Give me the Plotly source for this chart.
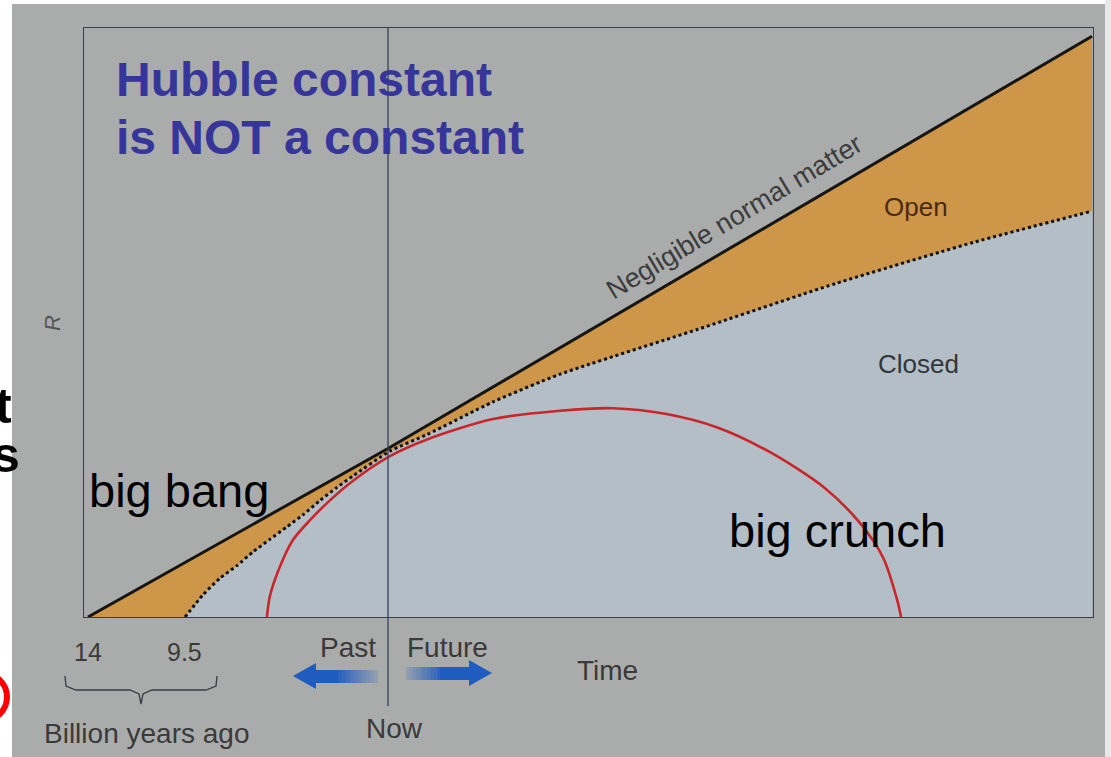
import plotly.graph_objects as go

# time in billion years relative to now (negative = past), R scale factor
empty_t = [-14.0, 0.0, 32.85]
empty_R = [0.0, 1.03, 3.55]

critical_t = [-9.47, -8.63, -7.84, -7.05, -6.30, -5.51, -4.71, -3.97, -3.17, -2.38,
              -1.63, 0.09, 1.82, 4.90, 8.03, 14.47, 20.86, 27.30, 32.85]
critical_R = [0.0, 0.136, 0.237, 0.314, 0.398, 0.475, 0.552, 0.624, 0.713, 0.792,
              0.863, 1.014, 1.115, 1.315, 1.484, 1.759, 2.037, 2.289, 2.481]

closed_t = [-5.65, -5.51, -5.04, -4.43, -3.64, -2.71, -1.63, 0.09, 1.82, 4.90, 8.03,
            10.50, 12.93, 15.40, 17.87, 20.35, 21.98, 23.10, 23.75, 23.94]
closed_R = [0.0, 0.128, 0.309, 0.472, 0.592, 0.713, 0.833, 0.983, 1.085, 1.210, 1.261,
            1.276, 1.242, 1.157, 1.004, 0.792, 0.581, 0.364, 0.109, 0.0]

age_labels = ["14", "9.5"]
age_t = [-14.0, -9.5]

GRAY = "#aaacac"
BLUE_FILL = "#b4bec6"
ORANGE = "#cd9648"
FONT = "Liberation Sans, Arial, sans-serif"

# frame position in page pixels, used for the decorations around it
W0, W1, H0, H1 = 84, 1093, 28, 617
PX_PER_GYR = 21.43
NOW_PX = 388


def pxx(x):
    return (x - W0) / (W1 - W0)


def pyy(y):
    return (H1 - y) / (H1 - H0)


def path(pts, close=True):
    s = "M " + " L ".join(f"{pxx(x):.5f},{pyy(y):.5f}" for x, y in pts)
    return s + (" Z" if close else "")


fig = go.Figure()

# closed region below the critical curve
fig.add_trace(go.Scatter(x=critical_t, y=critical_R, mode="lines", fill="tozeroy",
                         fillcolor=BLUE_FILL, line=dict(width=0), hoverinfo="skip"))

# open region between the empty and critical models
poly_t = empty_t + critical_t[::-1] + [empty_t[0]]
poly_R = empty_R + critical_R[::-1] + [empty_R[0]]
fig.add_trace(go.Scatter(x=poly_t, y=poly_R, mode="lines", fill="toself",
                         fillcolor=ORANGE, line=dict(width=0), hoverinfo="skip"))

fig.add_trace(go.Scatter(x=empty_t, y=empty_R, mode="lines",
                         line=dict(color="#151515", width=3)))
fig.add_trace(go.Scatter(x=critical_t, y=critical_R, mode="lines", line_shape="spline",
                         line=dict(color="#111111", width=3, dash="dot", smoothing=0.6)))
fig.add_trace(go.Scatter(x=closed_t, y=closed_R, mode="lines", line_shape="spline",
                         line=dict(color="#c8262b", width=2.6, smoothing=0.8)))

shapes = []
# "now" line
shapes.append(dict(type="line", xref="x", yref="paper", x0=0, x1=0,
                   y0=pyy(706), y1=1, line=dict(color="#33405a", width=1.3)))
# white photo borders
shapes.append(dict(type="rect", xref="paper", yref="paper", x0=pxx(-2), x1=pxx(12),
                   y0=pyy(760), y1=pyy(-2), fillcolor="white", line_width=0, layer="above"))
shapes.append(dict(type="rect", xref="paper", yref="paper", x0=pxx(-2), x1=pxx(1113),
                   y0=pyy(4), y1=pyy(-2), fillcolor="white", line_width=0, layer="above"))
shapes.append(dict(type="rect", xref="paper", yref="paper", x0=pxx(1105), x1=pxx(1113),
                   y0=pyy(760), y1=pyy(-2), fillcolor="#e8e8e8", line_width=0, layer="above"))
# red ring at left edge
shapes.append(dict(type="circle", xref="paper", yref="paper", x0=pxx(-42), x1=pxx(7),
                   y0=pyy(721), y1=pyy(673), line=dict(color="#ff0000", width=6),
                   layer="above"))
# brace under the ages
brace = [(65, 676), (66, 686), (76, 690), (130, 690), (139, 694), (141, 704),
         (143, 694), (152, 690), (206, 690), (216, 686), (217, 676)]
shapes.append(dict(type="path", xref="paper", yref="paper", path=path(brace, close=False),
                   line=dict(color="#3a3a44", width=1.3)))

# arrows: past and future, fading towards the now line
ARROW = "#1f5cbf"
shapes.append(dict(type="path", xref="paper", yref="paper",
                   path=path([(293, 676), (316, 663), (316, 689)]),
                   fillcolor=ARROW, line_width=0))
shapes.append(dict(type="path", xref="paper", yref="paper",
                   path=path([(492, 673), (469, 660), (469, 686)]),
                   fillcolor=ARROW, line_width=0))
shapes.append(dict(type="rect", xref="paper", yref="paper", x0=pxx(315), x1=pxx(338),
                   y0=pyy(683), y1=pyy(670), fillcolor=ARROW, line_width=0))
shapes.append(dict(type="rect", xref="paper", yref="paper", x0=pxx(440), x1=pxx(470),
                   y0=pyy(680), y1=pyy(667), fillcolor=ARROW, line_width=0))
for i in range(10):
    op = 0.9 - i * 0.08
    shapes.append(dict(type="rect", xref="paper", yref="paper",
                       x0=pxx(338 + 4 * i), x1=pxx(342 + 4 * i),
                       y0=pyy(683), y1=pyy(670), fillcolor=ARROW, opacity=op, line_width=0))
    shapes.append(dict(type="rect", xref="paper", yref="paper",
                       x0=pxx(436.6 - 3.4 * i), x1=pxx(440 - 3.4 * i),
                       y0=pyy(680), y1=pyy(667), fillcolor=ARROW, opacity=op, line_width=0))


def note(text, x, y, size, color="#3a3a3a", xanchor="center", **kw):
    return dict(text=text, xref="paper", yref="paper", x=pxx(x), y=pyy(y),
                xanchor=xanchor, yanchor="middle", showarrow=False,
                font=dict(family=FONT, size=size, color=color), **kw)


annotations = [
    note("<b>Hubble constant</b>", 114, 80, 48, "#35359a", xanchor="left"),
    note("<b>is NOT a constant</b>", 114, 137, 48, "#35359a", xanchor="left"),
    note("Negligible normal matter", 734, 217, 27, "#3c3c3c", textangle=-31),
    note("Open", 916, 207, 26, "#4a2a10"),
    note("Closed", 918, 364, 26, "#30373c"),
    note("big bang", 179, 490, 47, "black"),
    note("big crunch", 837, 530, 47, "black"),
    note("<i>R</i>", 52, 323, 22, "#555555", textangle=-90),
    note("Billion years ago", 146, 733, 28),
    note("Past", 348, 647, 28),
    note("Future", 447, 647, 28),
    note("Time", 607, 670, 28),
    note("Now", 394, 728, 28),
    note("<b>t</b>", 14, 406, 50, "black", xanchor="right"),
    note("<b>s</b>", 22, 455, 50, "black", xanchor="right"),
]
for lab, t in zip(age_labels, age_t):
    annotations.append(dict(text=lab, xref="x", yref="paper", x=t, y=pyy(652),
                            xanchor="center", yanchor="middle", showarrow=False,
                            font=dict(family=FONT, size=25, color="#3a3a3a")))

axis = dict(showgrid=False, zeroline=False, showticklabels=False, ticks="",
            showline=True, mirror=True, linecolor="#3d3d44", linewidth=1.4)

fig.update_layout(
    width=1111, height=757,
    margin=dict(l=W0, r=1111 - W1, t=H0, b=757 - H1, pad=0),
    paper_bgcolor=GRAY, plot_bgcolor=GRAY,
    showlegend=False,
    xaxis=dict(range=[(W0 - NOW_PX) / PX_PER_GYR, (W1 - NOW_PX) / PX_PER_GYR], **axis),
    yaxis=dict(range=[0, 3.6], **axis),
    shapes=shapes,
    annotations=annotations,
)

fig.write_html("out.html", config={"displayModeBar": False},
               post_script="document.body.style.margin='0px';")
